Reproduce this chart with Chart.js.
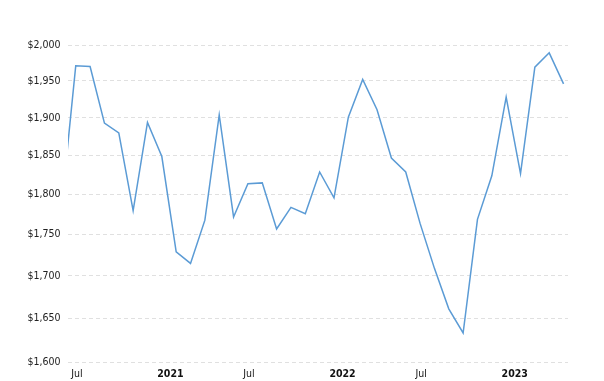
<!DOCTYPE html>
<html>
<head>
<meta charset="utf-8">
<script src="https://cdn.jsdelivr.net/npm/chart.js@4.4.0/dist/chart.umd.min.js"></script>
<style>
  html, body { margin: 0; padding: 0; background: #fff; }
  #wrap { width: 604px; height: 381px; position: relative; }
</style>
</head>
<body>
<div id="wrap"><canvas id="chart-gold"></canvas></div>
<script>
// monthly closing price, Jun 2020 .. May 2023
var months = [
    '2020-06', '2020-07', '2020-08', '2020-09', '2020-10', '2020-11', '2020-12',
    '2021-01', '2021-02', '2021-03', '2021-04', '2021-05', '2021-06',
    '2021-07', '2021-08', '2021-09', '2021-10', '2021-11', '2021-12',
    '2022-01', '2022-02', '2022-03', '2022-04', '2022-05', '2022-06',
    '2022-07', '2022-08', '2022-09', '2022-10', '2022-11', '2022-12',
    '2023-01', '2023-02', '2023-03', '2023-04', '2023-05'
];
var prices = [
    1783, 1971, 1970, 1893, 1880, 1780, 1894,
    1849, 1729, 1715, 1768, 1904, 1772,
    1814, 1815, 1757, 1784, 1776, 1829,
    1796, 1901, 1952, 1911, 1847, 1829,
    1764, 1709, 1661, 1633, 1769, 1824,
    1928, 1827, 1969, 1989, 1946
];
var yTicks = [1600, 1650, 1700, 1750, 1800, 1850, 1900, 1950, 2000];
var xTickMonths = [1, 7, 13, 19, 25, 31];
var xTickLabels = ['Jul', '2021', 'Jul', '2022', 'Jul', '2023'];

var FONT = '"DejaVu Sans Condensed", "DejaVu Sans", sans-serif';
var tickShift = -0.32;   // month boundary sits a little left of the plotted close

var points = prices.map(function(p, i) { return {x: i, y: p}; });

var config = {
    type: 'line',
    data: {
        datasets: [
            {
                label: 'Gold',
                data: points,
                borderColor: '#5b9bd5',
                borderWidth: 1.5,
                pointRadius: 0,
                tension: 0,
                fill: false,
            }
        ]
    },
    options: {
        responsive: false,
        animation: false,
        layout: {
            padding: {top: 45, right: 36, bottom: 0, left: 0}
        },
        plugins: {
            legend: { display: false },
            title: { display: false },
            tooltip: { enabled: false }
        },
        scales: {
            x: {
                type: 'linear',
                min: 0.46,
                max: 35.31,
                grid: { display: false, drawTicks: false },
                border: { display: false },
                afterBuildTicks: function(scale) {
                    scale.ticks = xTickMonths.map(function(m) { return {value: m + tickShift}; });
                },
                afterFit: function(scale) { scale.height = 19; },
                ticks: {
                    autoSkip: false,
                    maxRotation: 0,
                    align: 'start',
                    padding: 6,
                    color: '#111',
                    font: function(ctx) {
                        var lbl = ctx.tick ? ctx.tick.label : '';
                        return {family: FONT, size: 10.5, weight: /^\d{4}$/.test(lbl) ? 'bold' : 'normal'};
                    },
                    callback: function(value) {
                        var k = xTickMonths.indexOf(Math.round(value - tickShift));
                        return k >= 0 ? xTickLabels[k] : '';
                    }
                }
            },
            y: {
                type: 'logarithmic',
                min: 1600,
                max: 2000,
                bounds: 'data',
                grid: {
                    color: '#e0e0e0',
                    lineWidth: 1,
                    drawTicks: false
                },
                border: { display: false, dash: [4, 3] },
                afterBuildTicks: function(scale) {
                    scale.ticks = yTicks.map(function(v) { return {value: v}; });
                },
                afterFit: function(scale) { scale.width = 68; },
                ticks: {
                    padding: 7.5,
                    color: '#222',
                    font: {family: FONT, size: 10.5},
                    callback: function(value) {
                        return '$' + Number(value).toLocaleString('en-US');
                    }
                }
            }
        }
    }
};

var canvas = document.getElementById('chart-gold');
canvas.width = 604;
canvas.height = 381;
new Chart(canvas, config);
</script>
</body>
</html>
